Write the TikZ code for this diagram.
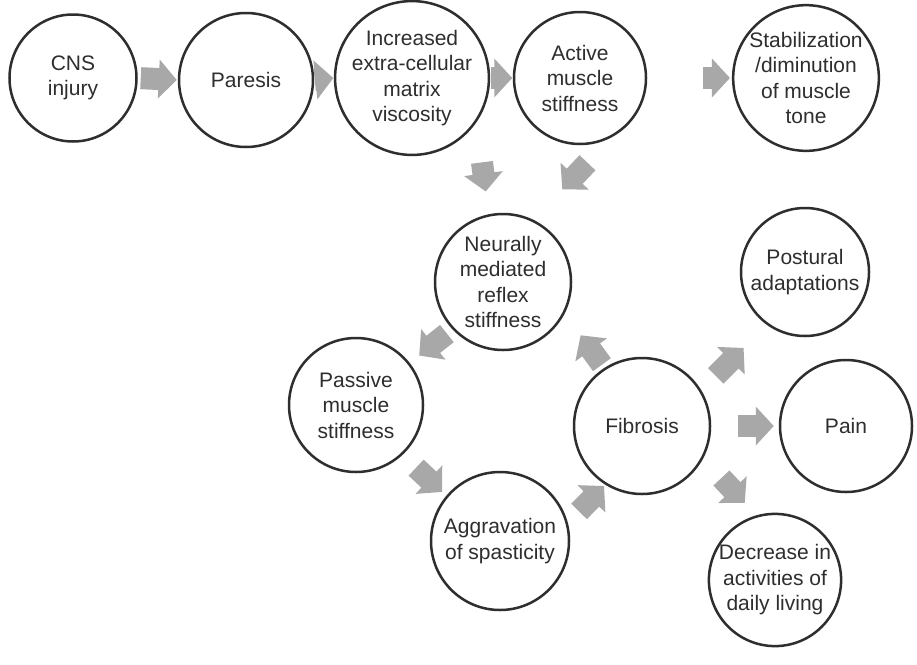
\documentclass[tikz,border=0pt]{standalone}
\usepackage{fontspec}
\setmainfont{Liberation Sans}
\usetikzlibrary{arrows.meta}
\definecolor{arr}{HTML}{A8A8A8}
\definecolor{ink}{HTML}{2E2E2E}
\begin{document}
\begin{tikzpicture}[x=1pt,y=-1pt,
  bub/.style={circle, draw=ink, line width=2.5pt, inner sep=0pt, align=center,
    text=ink, font=\fontsize{21}{25.5}\selectfont},
  fat/.style={draw=arr, line width=22pt, -{Triangle[length=18pt,width=38pt]}}]
\useasboundingbox[fill=white] (0,0) rectangle (917,664);
\node[bub, minimum size=127pt] (A) at (73,78) {CNS\\injury};
\node[bub, minimum size=134pt] (B) at (246,80) {Paresis};
\node[bub, minimum size=134pt] (C) at (412,78) {Increased\\extra-cellular\\matrix\\viscosity};
\node[bub, minimum size=132pt] (D) at (580,78) {Active\\muscle\\stiffness};
\node[bub, minimum size=128pt] (E) at (806,78) {Stabilization\\/diminution\\of muscle\\tone};
\node[bub, minimum size=136pt] (F) at (503,282) {Neurally\\mediated\\reflex\\stiffness};
\node[bub, minimum size=128pt] (G) at (805,272) {Postural\\adaptations};
\node[bub, minimum size=134pt] (H) at (356,405) {Passive\\muscle\\stiffness};
\node[bub, minimum size=136pt] (I) at (642,426) {Fibrosis};
\node[bub, minimum size=132pt] (J) at (846,426) {Pain};
\node[bub, minimum size=138pt] (K) at (500,541) {Aggravation\\of spasticity};
\node[bub, minimum size=128pt] (L) at (775,580) {Decrease in\\activities of\\daily living};
% arrows
\draw[fat, shorten <=3pt, shorten >=1pt] (A.0) -- (B.180);
\draw[fat, shorten <=0.5pt, shorten >=0.5pt] (B.0) -- (C.180);
\draw[fat, shorten <=0.5pt, shorten >=0.5pt] (C.0) -- (D.180);
\draw[fat, shorten <=56pt, shorten >=2pt] (D.0) -- (E.180);
\draw[fat, shorten <=41pt, shorten >=23pt] (C.-34) -- (F.102);
\draw[fat, shorten <=35pt, shorten >=42pt] (D.-62) -- (F.64);
\draw[fat, shorten <=7pt, shorten >=12pt] (F.223) -- (H.38);
\draw[fat, shorten <=4pt, shorten >=27pt] (I.123) -- (F.-27);
\draw[fat, shorten <=18.6pt, shorten >=5.7pt] (H.-47) -- (K.140);
\draw[fat, shorten <=16pt, shorten >=1.8pt] (K.15) -- (I.238);
\draw[fat, shorten <=20.4pt, shorten >=32.7pt] (I.31) -- (G.234);
\draw[fat, shorten <=27pt, shorten >=5pt] (I.0) -- (J.180);
\draw[fat, shorten <=26.7pt, shorten >=17.1pt] (I.-28) -- (L.106);
\end{tikzpicture}
\end{document}
